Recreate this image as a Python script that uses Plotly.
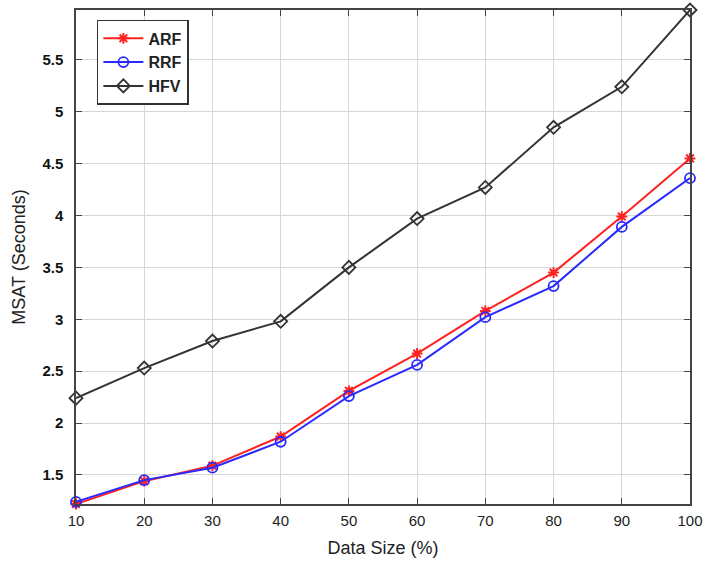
import plotly.graph_objects as go

data_size = [10, 20, 30, 40, 50, 60, 70, 80, 90, 100]
arf = [1.22, 1.44, 1.59, 1.87, 2.31, 2.67, 3.08, 3.45, 3.99, 4.55]
rrf = [1.24, 1.45, 1.57, 1.82, 2.26, 2.56, 3.02, 3.32, 3.89, 4.36]
hfv = [2.24, 2.53, 2.79, 2.98, 3.50, 3.97, 4.27, 4.85, 5.24, 5.98]
x_ticks = [10, 20, 30, 40, 50, 60, 70, 80, 90, 100]
y_ticks = [1.5, 2, 2.5, 3, 3.5, 4, 4.5, 5, 5.5]

FONT = "Liberation Sans"

fig = go.Figure()
fig.add_trace(go.Scatter(x=data_size, y=arf, name="ARF", mode="lines+markers",
                         line=dict(color="#ff2020", width=2),
                         marker=dict(symbol="asterisk-open", size=9, color="#ff2020",
                                     line=dict(color="#ff2020", width=2)),
                         cliponaxis=False))
fig.add_trace(go.Scatter(x=data_size, y=rrf, name="RRF", mode="lines+markers",
                         line=dict(color="#2a2aff", width=2),
                         marker=dict(symbol="circle-open", size=10, color="#2a2aff",
                                     line=dict(color="#2a2aff", width=1.8)),
                         cliponaxis=False))
fig.add_trace(go.Scatter(x=data_size, y=hfv, name="HFV", mode="lines+markers",
                         line=dict(color="#333333", width=2),
                         marker=dict(symbol="diamond-open", size=10, color="#333333",
                                     line=dict(color="#333333", width=1.8)),
                         cliponaxis=False))

axis_common = dict(showline=True, linecolor="#444444", linewidth=1.5, mirror="ticks",
                   ticks="inside", ticklen=6, tickcolor="#444444", tickwidth=1,
                   showgrid=True, gridcolor="#d6d6d6", gridwidth=1, zeroline=False,
                   automargin=False)

fig.update_layout(
    width=707, height=570, autosize=False,
    margin=dict(l=76, r=17, t=10, b=66),
    plot_bgcolor="white", paper_bgcolor="white",
    font=dict(family=FONT, color="#222222"),
    xaxis=dict(range=[10, 100], tickvals=x_ticks, ticktext=[str(v) for v in x_ticks],
               tickfont=dict(family=FONT, size=15, color="#222222"),
               ticklabelstandoff=2,
               title=dict(text="Data Size (%)", font=dict(family=FONT, size=18), standoff=14),
               **axis_common),
    yaxis=dict(range=[1.22, 5.98], tickvals=y_ticks,
               ticktext=["<b>%s</b>" % v for v in y_ticks],
               tickfont=dict(family=FONT, size=15, color="#111111"),
               ticklabelstandoff=8,
               title=dict(text="MSAT (Seconds)", font=dict(family=FONT, size=18), standoff=12),
               **axis_common),
    legend=dict(x=0.034, y=0.98, xanchor="left", yanchor="top",
                bgcolor="white", bordercolor="#333333", borderwidth=1.5,
                font=dict(family=FONT, size=16, color="#222222", weight="bold"),
                itemwidth=40, tracegroupgap=2),
    showlegend=True,
)

fig.write_html(
    "out.html",
    config={"responsive": False, "displayModeBar": False},
    post_script="document.body.style.margin='0';document.body.style.overflow='hidden';",
)
